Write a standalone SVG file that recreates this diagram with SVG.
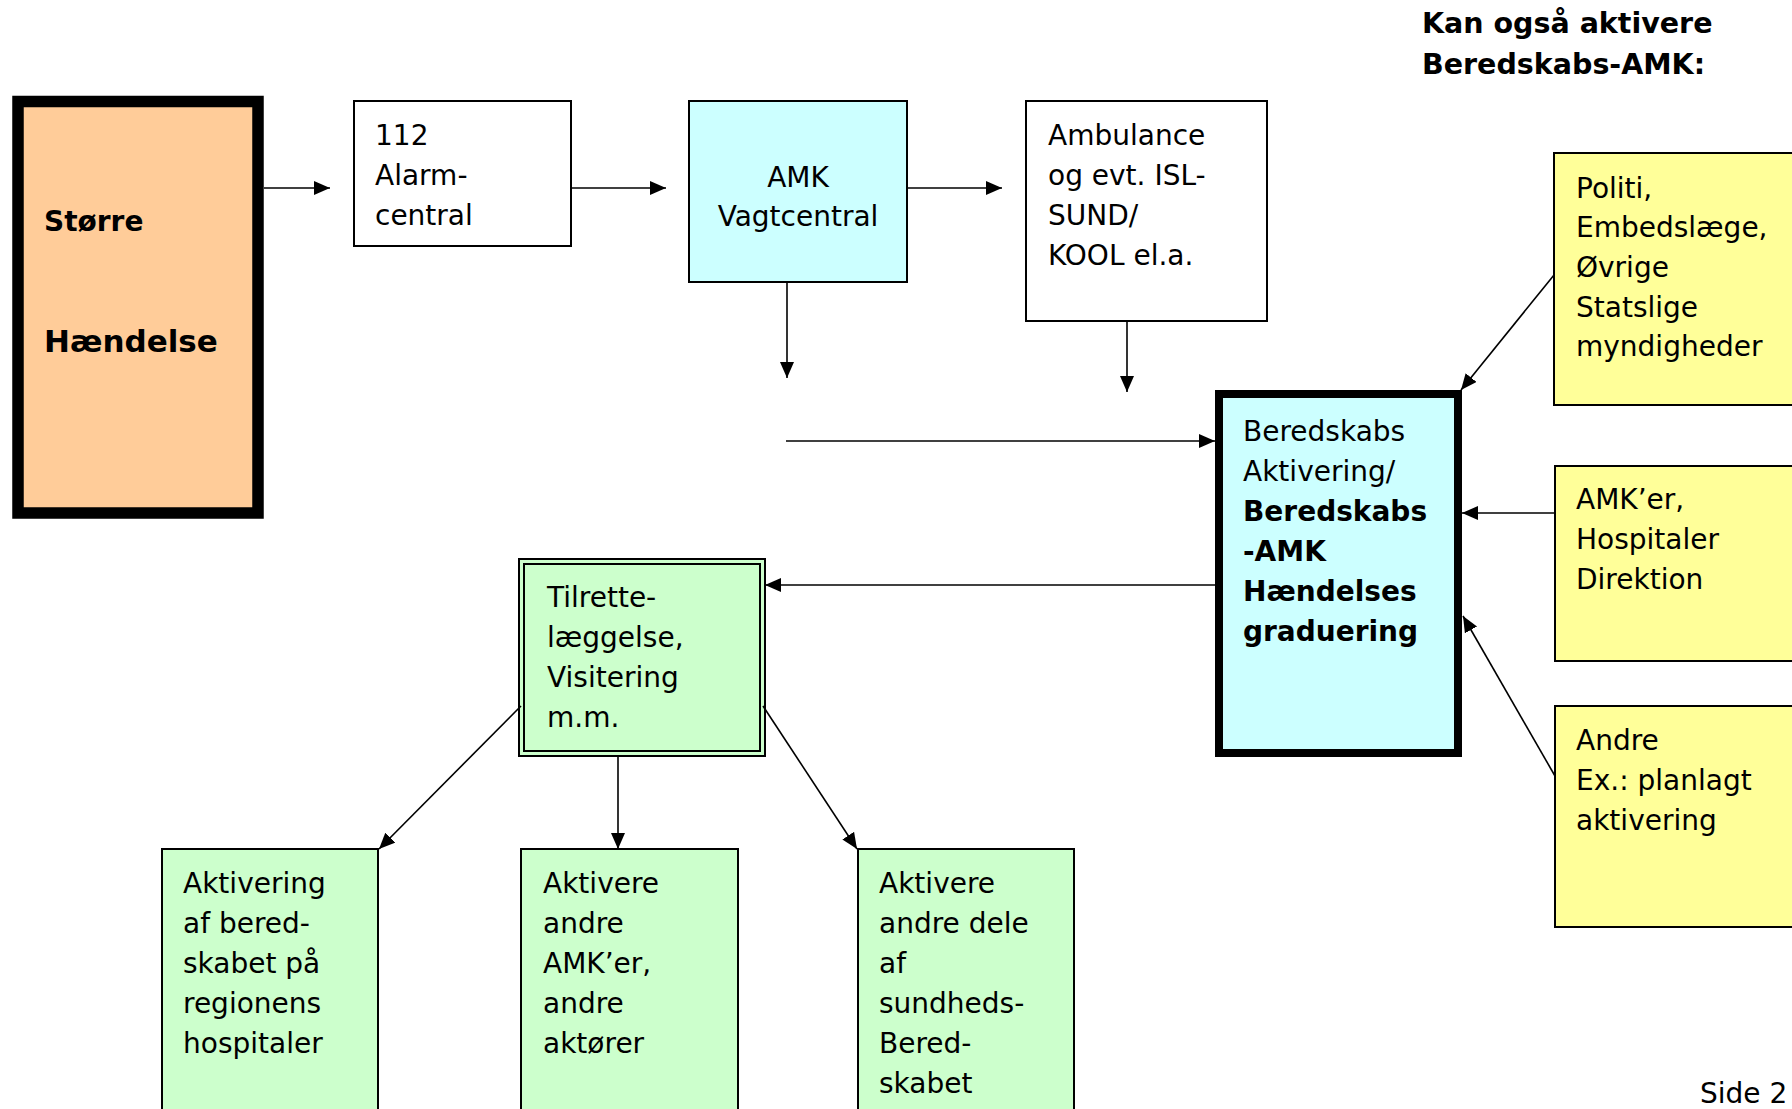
<svg xmlns="http://www.w3.org/2000/svg" width="1792" height="1109" viewBox="0 0 1792 1109">
<style>
  text { font-family: "DejaVu Sans", Verdana, "Liberation Sans", sans-serif; font-size: 28px; fill: #000; }
  .b { font-weight: bold; }
  .box { stroke: #000; stroke-width: 2; }
  .white { fill: #FFFFFF; }
  .cyan { fill: #CCFFFF; }
  .yellow { fill: #FFFF99; }
  .green { fill: #CCFFCC; }
  .peach { fill: #FFCC99; }
  .conn { stroke: #000; stroke-width: 1.6; fill: none; marker-end: url(#arrow); }
</style>
<defs>
  <marker id="arrow" markerUnits="userSpaceOnUse" markerWidth="17" markerHeight="15" refX="16" refY="7" orient="auto">
    <path d="M0,0 L16,7 L0,14 z" fill="#000"/>
  </marker>
</defs>
<rect width="1792" height="1109" fill="#FFFFFF"/>

<g id="header">
  <text class="b" x="1422" y="33" style="font-size:28.5px">Kan også aktivere</text>
  <text class="b" x="1422" y="74" style="font-size:28.5px">Beredskabs-AMK:</text>
</g>

<g id="node-stoerre">
  <rect x="18" y="101.5" width="240" height="411.5" class="peach" stroke="#000" stroke-width="11.5"/>
  <text class="b" x="44" y="231">Større</text>
  <text class="b" x="44" y="352" style="font-size:31px">Hændelse</text>
</g>

<g id="node-112">
  <rect x="354" y="101" width="217" height="145" class="box white"/>
  <text x="375" y="145">112</text>
  <text x="375" y="185">Alarm-</text>
  <text x="375" y="225">central</text>
</g>

<g id="node-amk">
  <rect x="689" y="101" width="218" height="181" class="box cyan"/>
  <text x="798" y="187" text-anchor="middle">AMK</text>
  <text x="798" y="226" text-anchor="middle">Vagtcentral</text>
</g>

<g id="node-ambulance">
  <rect x="1026" y="101" width="241" height="220" class="box white"/>
  <text x="1048" y="145">Ambulance</text>
  <text x="1048" y="185">og evt. ISL-</text>
  <text x="1048" y="225">SUND/</text>
  <text x="1048" y="265">KOOL el.a.</text>
</g>

<g id="node-beredskabs">
  <rect x="1219" y="394" width="239" height="359" class="cyan" stroke="#000" stroke-width="8"/>
  <text x="1243" y="441">Beredskabs</text>
  <text x="1243" y="481">Aktivering/</text>
  <text class="b" x="1243" y="521">Beredskabs</text>
  <text class="b" x="1243" y="561">-AMK</text>
  <text class="b" x="1243" y="601">Hændelses</text>
  <text class="b" x="1243" y="641">graduering</text>
</g>

<g id="node-politi">
  <rect x="1554" y="153" width="250" height="252" class="box yellow"/>
  <text x="1576" y="198">Politi,</text>
  <text x="1576" y="237">Embedslæge,</text>
  <text x="1576" y="277">Øvrige</text>
  <text x="1576" y="317">Statslige</text>
  <text x="1576" y="356">myndigheder</text>
</g>

<g id="node-amker">
  <rect x="1555" y="466" width="250" height="195" class="box yellow"/>
  <text x="1576" y="509">AMK’er,</text>
  <text x="1576" y="549">Hospitaler</text>
  <text x="1576" y="589">Direktion</text>
</g>

<g id="node-andre">
  <rect x="1555" y="706" width="250" height="221" class="box yellow"/>
  <text x="1576" y="750">Andre</text>
  <text x="1576" y="790">Ex.: planlagt</text>
  <text x="1576" y="830">aktivering</text>
</g>

<g id="node-tilrette">
  <rect x="519" y="559" width="246" height="197" class="box green"/>
  <rect x="524" y="564" width="236" height="187" class="box green"/>
  <text x="547" y="607">Tilrette-</text>
  <text x="547" y="647">læggelse,</text>
  <text x="547" y="687">Visitering</text>
  <text x="547" y="727">m.m.</text>
</g>

<g id="node-aktivering">
  <rect x="162" y="849" width="216" height="270" class="box green"/>
  <text x="183" y="893">Aktivering</text>
  <text x="183" y="933">af bered-</text>
  <text x="183" y="973">skabet på</text>
  <text x="183" y="1013">regionens</text>
  <text x="183" y="1053">hospitaler</text>
</g>

<g id="node-aktivere-amk">
  <rect x="521" y="849" width="217" height="270" class="box green"/>
  <text x="543" y="893">Aktivere</text>
  <text x="543" y="933">andre</text>
  <text x="543" y="973">AMK’er,</text>
  <text x="543" y="1013">andre</text>
  <text x="543" y="1053">aktører</text>
</g>

<g id="node-aktivere-dele">
  <rect x="858" y="849" width="216" height="270" class="box green"/>
  <text x="879" y="893">Aktivere</text>
  <text x="879" y="933">andre dele</text>
  <text x="879" y="973">af</text>
  <text x="879" y="1013">sundheds-</text>
  <text x="879" y="1053">Bered-</text>
  <text x="879" y="1093">skabet</text>
</g>

<g id="footer">
  <text x="1700" y="1103">Side 2</text>
</g>

<g id="connectors">
  <line class="conn" x1="264" y1="188" x2="330" y2="188"/>
  <line class="conn" x1="571" y1="188" x2="666" y2="188"/>
  <line class="conn" x1="907" y1="188" x2="1002" y2="188"/>
  <line class="conn" x1="787" y1="282" x2="787" y2="378"/>
  <line class="conn" x1="1127" y1="321" x2="1127" y2="392"/>
  <line class="conn" x1="786" y1="441" x2="1215" y2="441"/>
  <line class="conn" x1="1554" y1="275" x2="1461" y2="390"/>
  <line class="conn" x1="1555" y1="513" x2="1462" y2="513"/>
  <line class="conn" x1="1555" y1="776" x2="1463" y2="616"/>
  <line class="conn" x1="1215" y1="585" x2="765" y2="585"/>
  <line class="conn" x1="521" y1="706" x2="379" y2="849"/>
  <line class="conn" x1="618" y1="757" x2="618" y2="849"/>
  <line class="conn" x1="763" y1="706" x2="857" y2="849"/>
</g>
</svg>
